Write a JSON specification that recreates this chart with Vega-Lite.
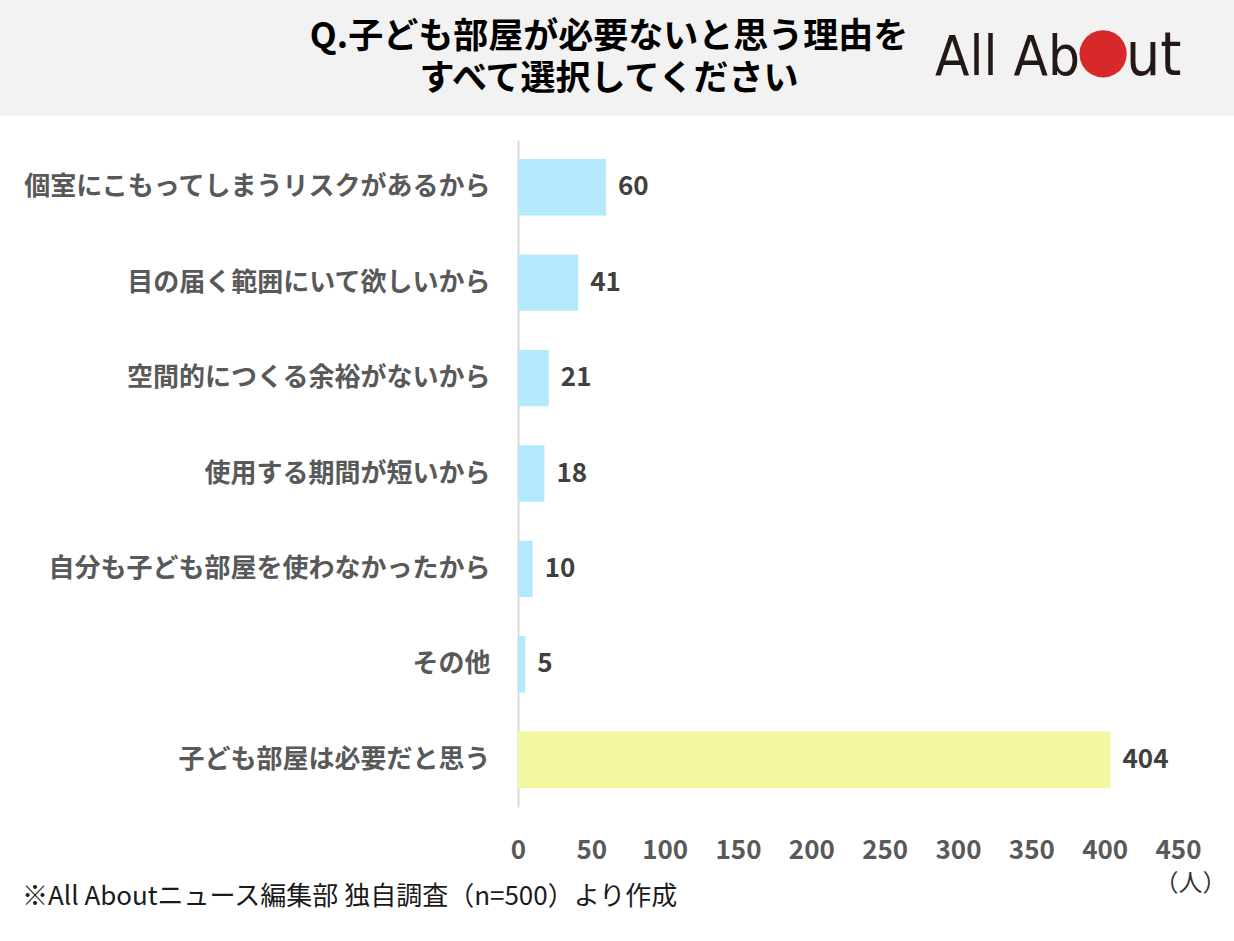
{
  "$schema": "https://vega.github.io/schema/vega-lite/v6.json",
  "background": "white",
  "padding": 0,
  "spacing": 24,
  "config": {
    "font": "Noto Sans CJK JP",
    "view": {"stroke": null}
  },
  "title": {
    "text": "※All Aboutニュース編集部 独自調査（n=500）より作成",
    "orient": "bottom",
    "anchor": "start",
    "dx": 22,
    "offset": -11,
    "fontSize": 26,
    "fontWeight": "normal",
    "color": "#1a1a1a",
    "font": "Noto Sans CJK JP"
  },
  "vconcat": [
    {
      "width": 1234,
      "height": 116,
      "view": {"fill": "#f2f2f2", "stroke": null},
      "data": {"values": [{"t": "Q.子ども部屋が必要ないと思う理由を\nすべて選択してください", "logoA": "All Ab", "logoB": "ut", "dot": "●"}]},
      "layer": [
        {
          "mark": {"type": "text", "lineBreak": "\n", "lineHeight": 42, "fontSize": 35, "fontWeight": "bold", "color": "#000000", "align": "center", "baseline": "middle", "dx": -8, "dy": -21},
          "encoding": {"text": {"field": "t"}}
        },
        {
          "mark": {"type": "text", "font": "Liberation Sans Narrow, DejaVu Sans Condensed, sans-serif", "fontSize": 56, "color": "#231815", "align": "right", "baseline": "alphabetic", "dx": 463, "dy": 17},
          "encoding": {"text": {"field": "logoA"}}
        },
        {
          "mark": {"type": "text", "font": "DejaVu Sans", "fontSize": 62, "color": "#d7282a", "align": "center", "baseline": "middle", "dx": 486, "dy": -7},
          "encoding": {"text": {"field": "dot"}}
        },
        {
          "mark": {"type": "text", "font": "Liberation Sans Narrow, DejaVu Sans Condensed, sans-serif", "fontSize": 60, "color": "#231815", "align": "left", "baseline": "alphabetic", "dx": 509, "dy": 17},
          "encoding": {"text": {"field": "logoB"}}
        }
      ]
    },
    {
      "width": 1234,
      "height": 667,
      "data": {
        "values": [
          {"reason": "個室にこもってしまうリスクがあるから", "count": 60, "group": "no"},
          {"reason": "目の届く範囲にいて欲しいから", "count": 41, "group": "no"},
          {"reason": "空間的につくる余裕がないから", "count": 21, "group": "no"},
          {"reason": "使用する期間が短いから", "count": 18, "group": "no"},
          {"reason": "自分も子ども部屋を使わなかったから", "count": 10, "group": "no"},
          {"reason": "その他", "count": 5, "group": "no"},
          {"reason": "子ども部屋は必要だと思う", "count": 404, "group": "yes"}
        ]
      },
      "encoding": {
        "y": {
          "field": "reason",
          "type": "nominal",
          "sort": null,
          "scale": {"paddingInner": 0.41, "paddingOuter": 0.2},
          "axis": {
            "title": null,
            "offset": -518,
            "domain": true,
            "domainColor": "#d9d9d9",
            "domainWidth": 2,
            "ticks": false,
            "grid": false,
            "labelPadding": 28,
            "labelFontSize": 26,
            "labelFontWeight": "bold",
            "labelColor": "#595959",
            "labelLimit": 0
          }
        },
        "x": {
          "field": "count",
          "type": "quantitative",
          "scale": {"domain": [0, 450], "nice": false, "range": [518, 1178]},
          "axis": {
            "values": [0, 50, 100, 150, 200, 250, 300, 350, 400, 450],
            "title": "（人）",
            "titleX": 1190,
            "titleY": 76,
            "titleAlign": "center",
            "titleBaseline": "middle",
            "titleFontSize": 24,
            "titleFontWeight": "normal",
            "titleColor": "#333333",
            "domain": false,
            "ticks": false,
            "grid": false,
            "labelPadding": 30,
            "labelFontSize": 26,
            "labelFontWeight": "bold",
            "labelColor": "#595959",
            "labelFlush": false
          }
        }
      },
      "layer": [
        {
          "mark": {"type": "bar"},
          "encoding": {
            "color": {
              "field": "group",
              "type": "nominal",
              "scale": {"domain": ["no", "yes"], "range": ["#b4e9fb", "#f3f8a0"]},
              "legend": null
            }
          }
        },
        {
          "mark": {"type": "text", "align": "left", "baseline": "middle", "dx": 12, "fontSize": 26, "fontWeight": "bold", "color": "#404040"},
          "encoding": {"text": {"field": "count", "type": "quantitative"}}
        }
      ]
    }
  ]
}
